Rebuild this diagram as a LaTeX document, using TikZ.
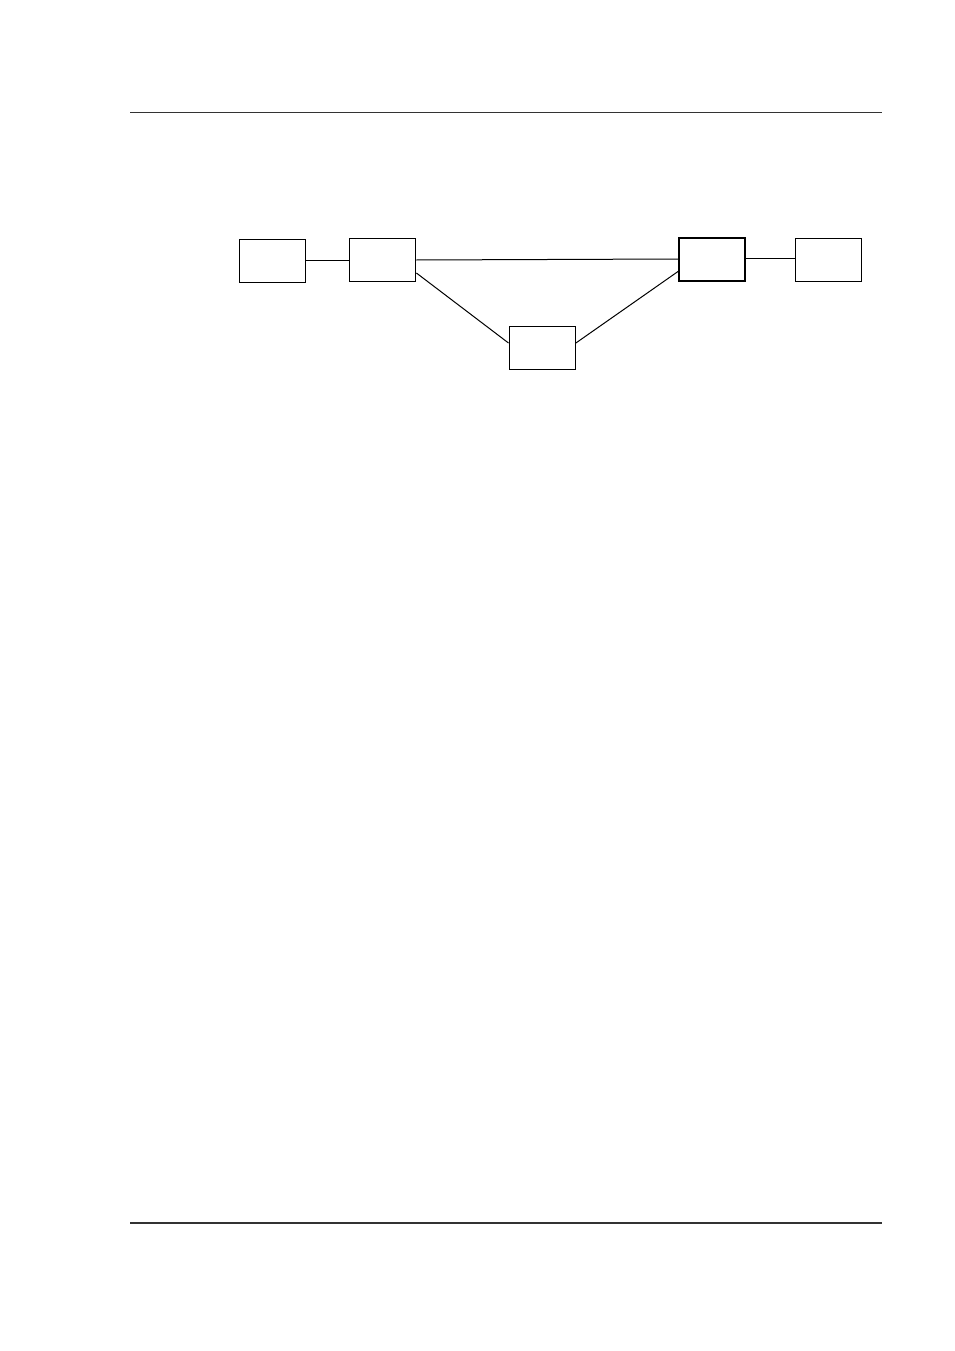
\documentclass[tikz,border=0pt]{standalone}
\begin{document}
\begin{tikzpicture}[x=1pt,y=-1pt,
  box/.style={draw=black,line width=1.4pt,minimum width=66pt,minimum height=43pt,inner sep=0pt,anchor=north west},
  link/.style={draw=black,line width=1pt},
  rulel/.style={draw=black!80,line width=1.2pt}]
\useasboundingbox (0,0) rectangle (954,1351);
\fill[white] (0,0) rectangle (954,1351);
\coordinate (t1) at (130,112.5);
\coordinate (t2) at (882,112.5);
\coordinate (b1) at (130,1223);
\coordinate (b2) at (882,1223);
\draw[rulel] (t1) -- (t2);
\draw[rulel] (b1) -- (b2);
\node[box] (a) at (239,239) {};
\node[box] (b) at (349,238) {};
\node[box] (c) at (508.5,326) {};
\node[box,line width=1.8pt] (d) at (678,237) {};
\node[box] (e) at (794.5,238) {};
\draw[link] (a.east |- 0,260) -- (b.west |- 0,260);
\draw[link] (b.east |- 0,260) -- (d.west |- 0,259);
\draw[link] (b.east |- 0,273) -- (c.west |- 0,343);
\draw[link] (c.east |- 0,343) -- (d.west |- 0,271.5);
\draw[link] (d.east |- 0,258.5) -- (e.west |- 0,258.5);
\end{tikzpicture}
\end{document}
